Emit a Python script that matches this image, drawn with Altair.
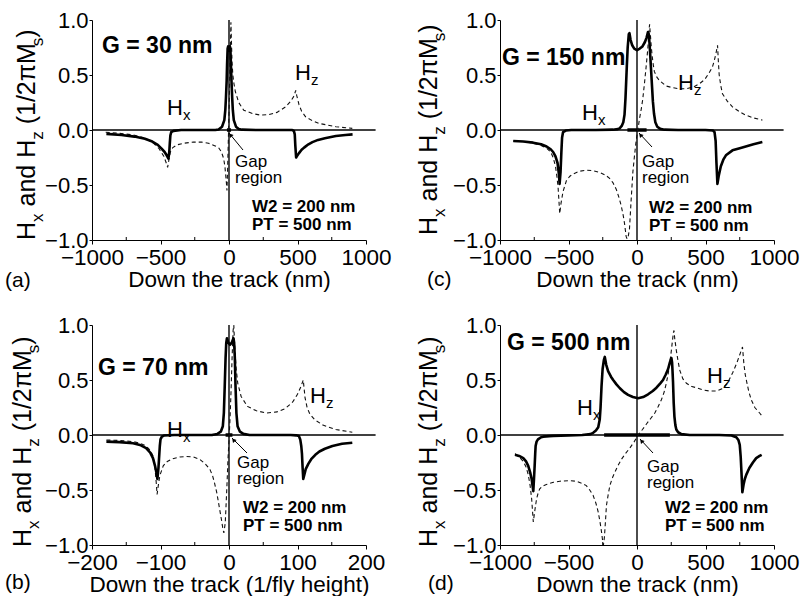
import altair as alt
import pandas as pd

# ---------------- data ----------------
A_HX = [(-895,-0.035),(-785,-0.045),(-690,-0.06),(-614,-0.08),(-560,-0.105),(-520,-0.135),(-492,-0.17),(-470,-0.2),(-455,-0.23),(-442,-0.26),
        (-436,-0.2),(-432,-0.12),(-428,-0.05),(-422,-0.02),(-405,-0.008),(-350,0),(-200,0),(-100,0),(-76,0.005),(-51,0.03),
        (-34,0.09),(-27,0.18),(-22,0.3),(-17,0.45),(-14,0.6),(-10,0.74),(-6,0.76),(0,0.72),(6,0.76),(10,0.74),
        (14,0.6),(18,0.45),(23,0.3),(28,0.18),(35,0.09),(51,0.03),(71,0.01),(95,0.003),(200,0),(400,0),
        (462,0),(474,-0.01),(480,-0.04),(484,-0.14),(490,-0.25),(495,-0.24),(511,-0.21),(530,-0.18),(548,-0.16),(580,-0.13),
        (609,-0.11),(650,-0.09),(700,-0.075),(780,-0.055),(850,-0.045),(902,-0.04)]
A_HZ = [(-900,-0.02),(-800,-0.03),(-700,-0.045),(-620,-0.07),(-560,-0.11),(-510,-0.17),(-475,-0.24),(-458,-0.3),(-448,-0.34),(-440,-0.28),
        (-428,-0.2),(-410,-0.16),(-380,-0.135),(-330,-0.12),(-260,-0.11),(-200,-0.11),(-150,-0.12),(-110,-0.14),(-76,-0.16),(-55,-0.2),
        (-39,-0.26),(-30,-0.33),(-24,-0.41),(-19,-0.48),(-15,-0.55),(-10,-0.35),(-5,-0.1),(0,0.15),(5,0.45),(10,0.75),
        (14,0.98),(18,0.8),(22,0.62),(28,0.5),(35,0.43),(46,0.35),(71,0.25),(108,0.18),(170,0.15),(230,0.135),
        (290,0.14),(350,0.16),(413,0.21),(450,0.26),(475,0.31),(487,0.36),(495,0.31),(511,0.23),(530,0.17),(559,0.12),
        (600,0.09),(657,0.06),(780,0.03),(900,0.015)]

C_HX = [(-903,-0.10),(-830,-0.105),(-758,-0.115),(-700,-0.13),(-660,-0.15),(-630,-0.175),(-612,-0.2),(-595,-0.24),(-580,-0.3),(-570,-0.4),
        (-565,-0.49),(-558,-0.38),(-552,-0.2),(-547,-0.07),(-540,-0.02),(-520,-0.005),(-480,0),(-300,0),(-176,0.003),(-140,0.008),
        (-127,0.015),(-110,0.04),(-100,0.07),(-91,0.14),(-84,0.29),(-79,0.44),(-74,0.59),(-68,0.75),(-60,0.87),(-55,0.88),
        (-47,0.82),(-35,0.77),(-20,0.74),(0,0.725),(20,0.74),(40,0.76),(58,0.8),(70,0.84),(80,0.89),(86,0.87),
        (92,0.78),(98,0.65),(104,0.52),(110,0.39),(116,0.26),(124,0.15),(134,0.07),(148,0.03),(170,0.01),(200,0.003),
        (300,0),(500,0),(555,-0.005),(566,-0.02),(574,-0.1),(580,-0.3),(587,-0.49),(596,-0.42),(612,-0.33),(630,-0.27),
        (649,-0.23),(697,-0.185),(750,-0.165),(794,-0.15),(850,-0.13),(915,-0.11)]
C_HZ = [(-905,-0.10),(-830,-0.105),(-758,-0.12),(-700,-0.14),(-660,-0.165),(-630,-0.2),(-612,-0.25),(-595,-0.33),(-585,-0.42),(-576,-0.52),
        (-570,-0.64),(-564,-0.76),(-555,-0.67),(-540,-0.56),(-515,-0.46),(-490,-0.42),(-467,-0.4),(-420,-0.375),(-369,-0.365),(-320,-0.37),
        (-273,-0.385),(-230,-0.41),(-200,-0.44),(-175,-0.48),(-151,-0.54),(-130,-0.62),(-115,-0.69),(-100,-0.78),(-91,-0.85),(-84,-0.92),
        (-79,-0.97),(-72,-0.99),(-63,-0.96),(-55,-0.9),(-48,-0.75),(-42,-0.62),(-30,-0.38),(-18,-0.23),(-6,-0.095),(6,0.0),
        (18,0.1),(31,0.19),(42,0.28),(55,0.43),(67,0.58),(79,0.74),(87,0.9),(92,0.96),(98,0.86),(104,0.76),
        (111,0.67),(118,0.6),(127,0.53),(145,0.48),(164,0.45),(212,0.4),(260,0.385),(309,0.375),(360,0.375),(410,0.39),
        (455,0.42),(495,0.46),(527,0.52),(550,0.57),(564,0.63),(577,0.7),(588,0.77),(594,0.62),(600,0.5),(612,0.4),
        (624,0.33),(660,0.26),(697,0.21),(750,0.165),(794,0.135),(850,0.11),(915,0.09)]

B_HX = [(-179,-0.06),(-160,-0.065),(-140,-0.075),(-130,-0.09),(-121,-0.12),(-115,-0.16),(-111,-0.21),(-108,-0.28),(-106,-0.34),(-104.5,-0.40),
        (-103,-0.3),(-102,-0.2),(-101,-0.1),(-100,-0.04),(-98,-0.015),(-95,-0.005),(-80,0),(-40,0),(-25,0),(-17,0.01),
        (-12,0.03),(-9,0.08),(-7.5,0.2),(-6.2,0.45),(-5,0.7),(-4,0.84),(-3,0.88),(-1,0.84),(1.5,0.82),(4,0.84),
        (6.5,0.88),(7.5,0.84),(8.5,0.7),(9.5,0.45),(10.8,0.2),(12.5,0.08),(16,0.03),(21,0.01),(30,0),(90,0),
        (98,-0.003),(102,-0.01),(104,-0.04),(105.5,-0.1),(106.5,-0.17),(107.5,-0.3),(108.4,-0.40),(110,-0.36),(112,-0.31),(116,-0.26),
        (120,-0.22),(126,-0.18),(132,-0.15),(140,-0.125),(151,-0.10),(165,-0.08),(180,-0.07)]
B_HZ = [(-179,-0.045),(-160,-0.05),(-140,-0.06),(-130,-0.075),(-121,-0.10),(-115,-0.14),(-111,-0.19),(-108,-0.3),(-106,-0.45),(-105,-0.54),
        (-103,-0.45),(-101,-0.37),(-96,-0.28),(-90,-0.24),(-82,-0.215),(-72,-0.2),(-62,-0.195),(-52,-0.2),(-43,-0.22),(-35,-0.26),
        (-28,-0.31),(-24,-0.37),(-21,-0.44),(-18,-0.52),(-16,-0.59),(-13.5,-0.68),(-11,-0.77),(-9,-0.85),(-7.5,-0.89),(-5.5,-0.8),
        (-4,-0.6),(-2.6,-0.4),(-1.5,-0.22),(0,-0.05),(1.5,0.15),(3,0.4),(4.5,0.7),(6,0.95),(7,1.0),(8,0.85),
        (9.5,0.7),(10.5,0.6),(12.8,0.47),(17.7,0.35),(27,0.26),(40,0.22),(55,0.2),(70,0.21),(82,0.24),(93,0.3),
        (100,0.37),(105,0.44),(108.4,0.5),(111,0.34),(114,0.25),(118,0.19),(125,0.14),(137,0.09),(156,0.05),(180,0.025)]

D_HX = [(-891,-0.18),(-860,-0.19),(-830,-0.21),(-810,-0.24),(-794,-0.28),(-780,-0.34),(-769,-0.40),(-757,-0.51),(-752,-0.4),(-747,-0.28),
        (-743,-0.17),(-740,-0.1),(-733,-0.06),(-723,-0.04),(-700,-0.02),(-684,-0.015),(-640,-0.01),(-611,-0.008),(-500,-0.003),(-400,0),
        (-340,0.008),(-320,0.02),(-300,0.04),(-283,0.07),(-272,0.14),(-266,0.25),(-259,0.44),(-251,0.6),(-242,0.68),(-235,0.71),
        (-225,0.64),(-211,0.58),(-190,0.53),(-174,0.5),(-150,0.46),(-125,0.425),(-95,0.39),(-65,0.365),(-30,0.345),(8,0.335),
        (45,0.345),(81,0.37),(115,0.4),(142,0.43),(170,0.47),(190,0.5),(210,0.55),(227,0.6),(240,0.66),(251,0.70),
        (256,0.66),(259,0.59),(263,0.48),(268,0.29),(273,0.17),(280,0.09),(287,0.05),(300,0.025),(324,0.008),(385,0),
        (600,0),(690,-0.005),(725,-0.02),(740,-0.045),(750,-0.09),(757,-0.2),(763,-0.35),(769,-0.52),(778,-0.45),(787,-0.4),
        (798,-0.36),(820,-0.3),(846,-0.25),(870,-0.21),(895,-0.19),(910,-0.18)]
D_HZ = [(-891,-0.17),(-860,-0.2),(-830,-0.24),(-810,-0.29),(-794,-0.36),(-780,-0.46),(-769,-0.58),(-757,-0.79),(-745,-0.68),(-733,-0.58),
        (-720,-0.52),(-710,-0.49),(-690,-0.465),(-662,-0.45),(-610,-0.43),(-563,-0.42),(-500,-0.415),(-442,-0.42),(-400,-0.44),(-370,-0.46),
        (-345,-0.5),(-320,-0.55),(-300,-0.62),(-283,-0.70),(-270,-0.79),(-259,-0.88),(-250,-0.97),(-245,-1.0),(-238,-0.93),(-230,-0.78),
        (-223,-0.64),(-210,-0.54),(-198,-0.46),(-180,-0.39),(-162,-0.34),(-140,-0.28),(-113,-0.22),(-85,-0.17),(-53,-0.12),(-20,-0.06),
        (8,0.0),(40,0.05),(69,0.10),(100,0.15),(130,0.2),(155,0.26),(178,0.32),(198,0.39),(214,0.47),(228,0.56),
        (239,0.65),(250,0.76),(259,0.86),(266,0.93),(270,0.95),(276,0.87),(287,0.77),(300,0.67),(312,0.59),(335,0.51),
        (361,0.47),(400,0.44),(434,0.43),(480,0.41),(530,0.4),(579,0.40),(620,0.42),(660,0.47),(700,0.57),(730,0.66),
        (750,0.73),(770,0.80),(780,0.65),(790,0.55),(798,0.5),(815,0.4),(834,0.32),(860,0.25),(895,0.2),(915,0.17)]

GAPS = {"a": 15, "b": 5, "c": 70, "d": 240}
X_TICKS_NM = [-1000, -500, 0, 500, 1000]
X_TICKS_FH = [-200, -100, 0, 100, 200]
Y_TICKS = [-1.0, -0.5, 0.0, 0.5, 1.0]

# ---------------- layout / style ----------------
W, H = 274, 220
FONT = "Liberation Sans"
ONE = pd.DataFrame({"k": [0]})
WID = {"H": 0.722, "x": 0.5, "z": 0.5, "s": 0.5, " ": 0.278, "a": 0.556, "n": 0.556,
       "d": 0.556, "(": 0.333, ")": 0.333, "1": 0.556, "/": 0.278, "2": 0.556,
       "\u03c0": 0.57, "M": 0.833}


def tw(s, size):
    return sum(WID.get(ch, 0.556) for ch in s) * size


def txt(s, px, py, size, bold=False, angle=None, align="left"):
    kw = dict(text=s, align=align, baseline="alphabetic", fontSize=size, font=FONT,
              color="black", fontWeight="bold" if bold else "normal")
    if angle is not None:
        kw["angle"] = angle
    return alt.Chart(ONE).mark_text(**kw).encode(x=alt.value(px), y=alt.value(py))


def sublabel(main, sub, px, py):
    return [txt(main, px, py, 22), txt(sub, px + 16, py + 5, 15)]


def ytitle(bx, by):
    main, subsz = 25, 17
    segs = [("H", 0), ("x", 1), (" ", 0), ("and H", 0), ("z", 1), (" ", 0),
            ("(1/2\u03c0M", 0), ("s", 1), (")", 0)]
    out, pos = [], by
    for s, sub in segs:
        fs = subsz if sub else main
        if s.strip():
            out.append(txt(s, bx + (8 if sub else 0), pos, fs, angle=270))
        pos -= tw(s, fs)
    return out


def curve(pts):
    return pd.DataFrame({"x": [p[0] for p in pts], "y": [p[1] for p in pts],
                         "o": list(range(len(pts)))})


def panel(c):
    xsc = alt.Scale(domain=c["xdom"], nice=False, zero=False)
    ysc = alt.Scale(domain=[-1, 1], nice=False, zero=False)
    X = alt.X("x:Q", scale=xsc,
              axis=alt.Axis(values=c["xticks"], format="d", title=c["xtitle"],
                            labelFlush=False, labelOverlap=False, tickSize=4,
                            labelPadding=2, titlePadding=0, labelFontSize=22.5))
    Y = alt.Y("y:Q", scale=ysc,
              axis=alt.Axis(values=Y_TICKS, format=".1f", title=None, labelFlush=False,
                            labelOverlap=False, tickSize=3, labelPadding=1, labelFontSize=22))
    lo, hi = c["xdom"]
    layers = []
    hx = alt.Chart(curve(c["hx"])).mark_line(color="black", strokeWidth=2.6,
                                              strokeJoin="round").encode(x=X, y=Y, order="o:Q")
    hz = alt.Chart(curve(c["hz"])).mark_line(color="#111", strokeWidth=1.1, strokeDash=[4, 3]
                                              ).encode(x=X, y=Y, order="o:Q")
    zero = alt.Chart(pd.DataFrame({"x": [lo], "x2": [hi * 1.07], "y": [0.0]})).mark_rule(
        color="black", strokeWidth=1.4).encode(x=X, x2="x2:Q", y=Y)
    vline = alt.Chart(pd.DataFrame({"x": [0.0], "y": [-1.0], "y2": [1.0]})).mark_rule(
        color="black", strokeWidth=1.4).encode(x=X, y=Y, y2="y2:Q")
    g = c["gap"]
    gapbar = alt.Chart(pd.DataFrame({"x": [-g], "x2": [g], "y": [0.0]})).mark_rule(
        color="black", strokeWidth=3.5).encode(x=X, x2="x2:Q", y=Y)
    step = (hi - lo) / 8
    minors = alt.Chart(pd.DataFrame({"x": [lo + step * k for k in (1, 3, 5, 7)]})).mark_rule(
        color="black", strokeWidth=1).encode(x=X, y=alt.value(H), y2=alt.value(H - 3))
    layers += [zero, vline, gapbar, minors, hz, hx]

    a = c["ann"]
    layers.append(txt(a["g"][0], a["g"][1], a["g"][2], 23, bold=True))
    layers += sublabel("H", "x", *a["hx"])
    layers += sublabel("H", "z", *a["hz"])
    layers.append(txt("Gap", a["gap"][0], a["gap"][1], 17))
    layers.append(txt("region", a["gap"][0], a["gap"][1] + 16, 17))
    (hx_, hy_), (tx_, ty_) = a["arrow"]
    layers.append(alt.Chart(ONE).mark_rule(color="black", strokeWidth=1).encode(
        x=alt.value(hx_), x2=alt.value(tx_), y=alt.value(hy_), y2=alt.value(ty_)))
    layers.append(alt.Chart(ONE).mark_point(shape="triangle-up", filled=True, size=22,
                                            color="black", opacity=1, angle=320).encode(
        x=alt.value(hx_ + 1.5), y=alt.value(hy_ + 2)))
    layers.append(txt("W2 = 200 nm", a["w2"][0], a["w2"][1], 17, bold=True))
    layers.append(txt("PT = 500 nm", a["w2"][0], a["w2"][1] + 18, 17, bold=True))
    layers.append(txt(a["letter"][0], a["letter"][1], a["letter"][2], 21))
    layers += ytitle(*a["yt"])
    return alt.layer(*layers).properties(width=W, height=H)


XT_NM = "Down the track (nm)"
XT_FH = "Down the track (1/fly height)"

pa = panel(dict(xdom=[-1000, 1000], xticks=X_TICKS_NM, xtitle=XT_NM, hx=A_HX, hz=A_HZ,
                gap=GAPS["a"],
                ann=dict(g=("G = 30 nm", 10, 33), hx=(75, 95), hz=(203, 60), gap=(143, 147),
                         arrow=((137, 113), (151, 130)), w2=(160, 192), letter=("(a)", -87, 267),
                         yt=(-57, 220))))
pc = panel(dict(xdom=[-1000, 1000], xticks=X_TICKS_NM, xtitle=XT_NM, hx=C_HX, hz=C_HZ,
                gap=GAPS["c"],
                ann=dict(g=("G = 150 nm", 2, 45), hx=(82, 100), hz=(178, 70), gap=(142, 147),
                         arrow=((139, 113), (152, 127)), w2=(149, 193), letter=("(c)", -73, 266),
                         yt=(-63, 215))))
pb = panel(dict(xdom=[-200, 200], xticks=X_TICKS_FH, xtitle=XT_FH, hx=B_HX, hz=B_HZ,
                gap=GAPS["b"],
                ann=dict(g=("G = 70 nm", 6, 50), hx=(75, 112), hz=(218, 78), gap=(145, 143),
                         arrow=((140, 113), (155, 128)), w2=(151, 188), letter=("(b)", -87, 264),
                         yt=(-61, 222))))
pd_ = panel(dict(xdom=[-1000, 1000], xticks=X_TICKS_NM, xtitle=XT_NM, hx=D_HX, hz=D_HZ,
                 gap=GAPS["d"],
                 ann=dict(g=("G = 500 nm", 7, 25), hx=(77, 90), hz=(207, 58), gap=(147, 147),
                          arrow=((140, 114), (153, 128)), w2=(165, 188), letter=("(d)", -72, 265),
                          yt=(-63, 222))))

chart = alt.concat(pa, pc, pb, pd_, columns=2,
                   spacing=alt.RowColnumber(row=85, column=134), bounds="flush").properties(
    padding={"left": 5, "top": 9, "right": 0, "bottom": 0}
).configure_view(stroke=None).configure_axis(
    domainColor="black", tickColor="black", labelColor="black", titleColor="black",
    labelFont=FONT, titleFont=FONT, titleFontSize=22.5,
    titleFontWeight="normal", grid=False, domainWidth=1, tickWidth=1
)

chart.save("out.html", embed_options={"renderer": "svg", "actions": False})
